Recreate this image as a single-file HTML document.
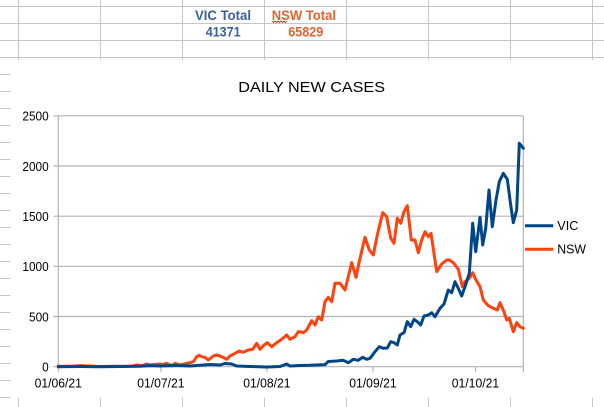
<!DOCTYPE html>
<html><head><meta charset="utf-8">
<style>
html,body{margin:0;padding:0;background:#fff;}
svg{display:block;}
text{font-family:"Liberation Sans",sans-serif;}
</style></head>
<body>
<svg width="604" height="407" viewBox="0 0 604 407" xmlns="http://www.w3.org/2000/svg">
<rect x="0" y="0" width="604" height="407" fill="#fff"/>
<!-- spreadsheet grid top -->
<g stroke="#c6c6c6" stroke-width="1">
<line x1="0" y1="6.5" x2="604" y2="6.5"/>
<line x1="0" y1="23.5" x2="604" y2="23.5"/>
<line x1="0" y1="40.5" x2="604" y2="40.5"/>
<line x1="0" y1="57.5" x2="604" y2="57.5"/>
<line x1="18.5" y1="0" x2="18.5" y2="60"/>
<line x1="100.5" y1="0" x2="100.5" y2="60"/>
<line x1="182.5" y1="0" x2="182.5" y2="60"/>
<line x1="264.5" y1="0" x2="264.5" y2="60"/>
<line x1="346.5" y1="0" x2="346.5" y2="60"/>
<line x1="428.5" y1="0" x2="428.5" y2="60"/>
<line x1="510.5" y1="0" x2="510.5" y2="60"/>
<line x1="592.5" y1="0" x2="592.5" y2="60"/>
<!-- left row ticks -->
<line x1="0" y1="74.5" x2="10.5" y2="74.5"/>
<line x1="0" y1="91.5" x2="10.5" y2="91.5"/>
<line x1="0" y1="108.5" x2="10.5" y2="108.5"/>
<line x1="0" y1="125.5" x2="10.5" y2="125.5"/>
<line x1="0" y1="142.5" x2="10.5" y2="142.5"/>
<line x1="0" y1="159.5" x2="10.5" y2="159.5"/>
<line x1="0" y1="176.5" x2="10.5" y2="176.5"/>
<line x1="0" y1="193.5" x2="10.5" y2="193.5"/>
<line x1="0" y1="210.5" x2="10.5" y2="210.5"/>
<line x1="0" y1="227.5" x2="10.5" y2="227.5"/>
<line x1="0" y1="244.5" x2="10.5" y2="244.5"/>
<line x1="0" y1="261.5" x2="10.5" y2="261.5"/>
<line x1="0" y1="278.5" x2="10.5" y2="278.5"/>
<line x1="0" y1="295.5" x2="10.5" y2="295.5"/>
<line x1="0" y1="312.5" x2="10.5" y2="312.5"/>
<line x1="0" y1="329.5" x2="10.5" y2="329.5"/>
<line x1="0" y1="346.5" x2="10.5" y2="346.5"/>
<line x1="0" y1="363.5" x2="10.5" y2="363.5"/>
<line x1="0" y1="380.5" x2="10.5" y2="380.5"/>
<line x1="0" y1="397.5" x2="10.5" y2="397.5"/>
<!-- bottom column ticks -->
<line x1="18.5" y1="398" x2="18.5" y2="407"/>
<line x1="100.5" y1="398" x2="100.5" y2="407"/>
<line x1="182.5" y1="398" x2="182.5" y2="407"/>
<line x1="264.5" y1="398" x2="264.5" y2="407"/>
<line x1="346.5" y1="398" x2="346.5" y2="407"/>
<line x1="428.5" y1="398" x2="428.5" y2="407"/>
<line x1="510.5" y1="398" x2="510.5" y2="407"/>
<line x1="592.5" y1="398" x2="592.5" y2="407"/>
</g>
<!-- header cells -->
<text x="195" y="20" font-size="14" font-weight="bold" fill="#3b5f99" textLength="56" lengthAdjust="spacingAndGlyphs">VIC Total</text>
<text x="205.7" y="36.7" font-size="14" font-weight="bold" fill="#3b5f99" textLength="35" lengthAdjust="spacingAndGlyphs">41371</text>
<text x="271.7" y="20" font-size="14" font-weight="bold" fill="#e5622a" textLength="64.3" lengthAdjust="spacingAndGlyphs">NSW Total</text>
<text x="288.3" y="36.7" font-size="14" font-weight="bold" fill="#e5622a" textLength="35" lengthAdjust="spacingAndGlyphs">65829</text>
<polyline points="272,21 273.5,22.5 275,21 276.5,22.5 278,21 279.5,22.5 281,21 282.5,22.5 284,21 285.5,22.5 287,21" fill="none" stroke="#e02020" stroke-width="0.8"/>

<!-- chart title -->
<text x="238.3" y="92" font-size="15" fill="#000" textLength="146.7" lengthAdjust="spacingAndGlyphs">DAILY NEW CASES</text>

<!-- gridlines -->
<g stroke="#b3b3b3" stroke-width="1.2">
<line x1="53.3" y1="115.8" x2="523.3" y2="115.8"/>
<line x1="53.3" y1="166" x2="523.3" y2="166"/>
<line x1="53.3" y1="216.2" x2="523.3" y2="216.2"/>
<line x1="53.3" y1="266.3" x2="523.3" y2="266.3"/>
<line x1="53.3" y1="316.5" x2="523.3" y2="316.5"/>
<line x1="53.3" y1="366.7" x2="523.3" y2="366.7"/>
<line x1="58.3" y1="115.8" x2="58.3" y2="371.7"/>
<line x1="523.3" y1="115.8" x2="523.3" y2="371.7"/>
<line x1="160.9" y1="366.7" x2="160.9" y2="371.7"/>
<line x1="266.9" y1="366.7" x2="266.9" y2="371.7"/>
<line x1="373" y1="366.7" x2="373" y2="371.7"/>
<line x1="475.5" y1="366.7" x2="475.5" y2="371.7"/>
</g>

<!-- y labels -->
<g font-size="13" fill="#000" text-anchor="end">
<text x="48.7" y="120.6" textLength="26.3" lengthAdjust="spacingAndGlyphs">2500</text>
<text x="48.7" y="170.8" textLength="26.3" lengthAdjust="spacingAndGlyphs">2000</text>
<text x="48.7" y="221" textLength="26.3" lengthAdjust="spacingAndGlyphs">1500</text>
<text x="48.7" y="271.1" textLength="26.3" lengthAdjust="spacingAndGlyphs">1000</text>
<text x="48.7" y="321.3" textLength="19.7" lengthAdjust="spacingAndGlyphs">500</text>
<text x="48.7" y="371.5" textLength="6.6" lengthAdjust="spacingAndGlyphs">0</text>
</g>
<!-- x labels -->
<g font-size="13" fill="#000">
<text x="34.6" y="387.7" textLength="47.3" lengthAdjust="spacingAndGlyphs">01/06/21</text>
<text x="137.2" y="387.7" textLength="47.3" lengthAdjust="spacingAndGlyphs">01/07/21</text>
<text x="243.2" y="387.7" textLength="47.3" lengthAdjust="spacingAndGlyphs">01/08/21</text>
<text x="349.3" y="387.7" textLength="47.3" lengthAdjust="spacingAndGlyphs">01/09/21</text>
<text x="451.8" y="387.7" textLength="47.3" lengthAdjust="spacingAndGlyphs">01/10/21</text>
</g>

<!-- NSW series -->
<polyline fill="none" stroke="#ff420e" stroke-width="3" stroke-linejoin="round" stroke-linecap="round" points="
58.3,366.2 70,366.4 80,365.6 88,366 100,366.5 115,366.2 125,366.4 133,366 136.7,365 142,365.6 146.7,364 150,365 153,364.6 160,364 163,364.6 166.7,363.3 171.7,366 175,363.3 180,365 186.7,363.3 190,362.7 193.3,361.7 196.7,356.7 199,355.3 202,356.8 205,357.4 208.3,360 213.3,356 216.7,355 221.7,356.7 226.7,359.3 230,356 235,353.3 239.3,351 243.3,352.3 248.3,350 252.7,349.3 256.7,343.3 260,349.3 264,345 267.3,342.7 271.7,346.7 276.7,342.7 281.7,339.3 286.7,335 290,339.3 295,336.7 298.3,331.7 300,331.7 303.3,332.7 306.7,330 311.7,320.7 315,325 318.3,316.7 321.7,320 325,301.7 328.3,297.3 331.7,301.7 335,283.3 340,283.3 345,290 351.7,262.7 356,277.3 360,258.3 365,237.3 369.3,250 373.3,255 377.3,235 382.7,212.7 386.7,216.7 390.7,238.3 394,243.3 397.3,218.3 400.7,223.3 404,211.7 407.3,205.7 411.3,240 415,240 418.3,252.7 421.7,240 425,231.7 428.3,236.7 431,233.3 436.7,271.7 441.7,264 446.7,260 449.3,260 453.3,262.7 458.3,269.3 462.3,286.7 465,281.7 469.3,278.3 472.7,272.7 476,280 480,286.7 483.3,300 488.3,305.7 493.3,308.3 497.3,310 500,302.7 503.3,310 506.7,320 509.3,318.3 513.3,331.7 516.7,322.7 520,326.7 523.3,328.3"/>

<!-- VIC series -->
<polyline fill="none" stroke="#004586" stroke-width="3" stroke-linejoin="round" stroke-linecap="round" points="
58.3,366.7 80,366.5 100,366.7 120,366.5 140,366.2 150,365.6 160,366 175,365.5 190,366 200,365.3 210,364.5 220,365 225,363.5 231.7,364 236.7,366 250,366.5 266.7,367 280,366.5 286.7,364 290,366 300,365.5 310,365.3 325,364.6 328.3,361.5 336.7,361 343.3,360.3 348.3,362.7 353.3,359.3 358.3,360.3 362.7,357.3 366.7,359.3 370,358.3 375,351.7 379.3,346.7 383.3,348.3 387.3,348 390.7,341.7 394,342.7 397.3,345 400,335 404,332.7 407.3,321.7 410.7,326.7 414,319.3 417.3,321.7 420.7,325 424,316 428.3,315 431.7,312.7 435,316.7 440,308.3 444,304 448.3,290 451.7,292.7 455,281.7 458.3,288.3 461.7,296 465,286.7 469.3,273.3 472.7,223.3 475.7,251.7 480,217.3 482.7,245 485.7,228.3 489,190 492.3,226.7 496,200 499.3,181.7 503.3,173.3 507.3,179.3 510.7,205 513.3,222.7 516.7,210 519.3,143.3 523.3,148.3"/>

<!-- legend -->
<line x1="525" y1="225.7" x2="553.3" y2="225.7" stroke="#004586" stroke-width="3"/>
<text x="557.3" y="229.8" font-size="13" fill="#000" textLength="21" lengthAdjust="spacingAndGlyphs">VIC</text>
<line x1="525" y1="249.2" x2="553.3" y2="249.2" stroke="#ff420e" stroke-width="3"/>
<text x="557.3" y="253.5" font-size="13" fill="#000" textLength="28.7" lengthAdjust="spacingAndGlyphs">NSW</text>
</svg>
</body></html>
